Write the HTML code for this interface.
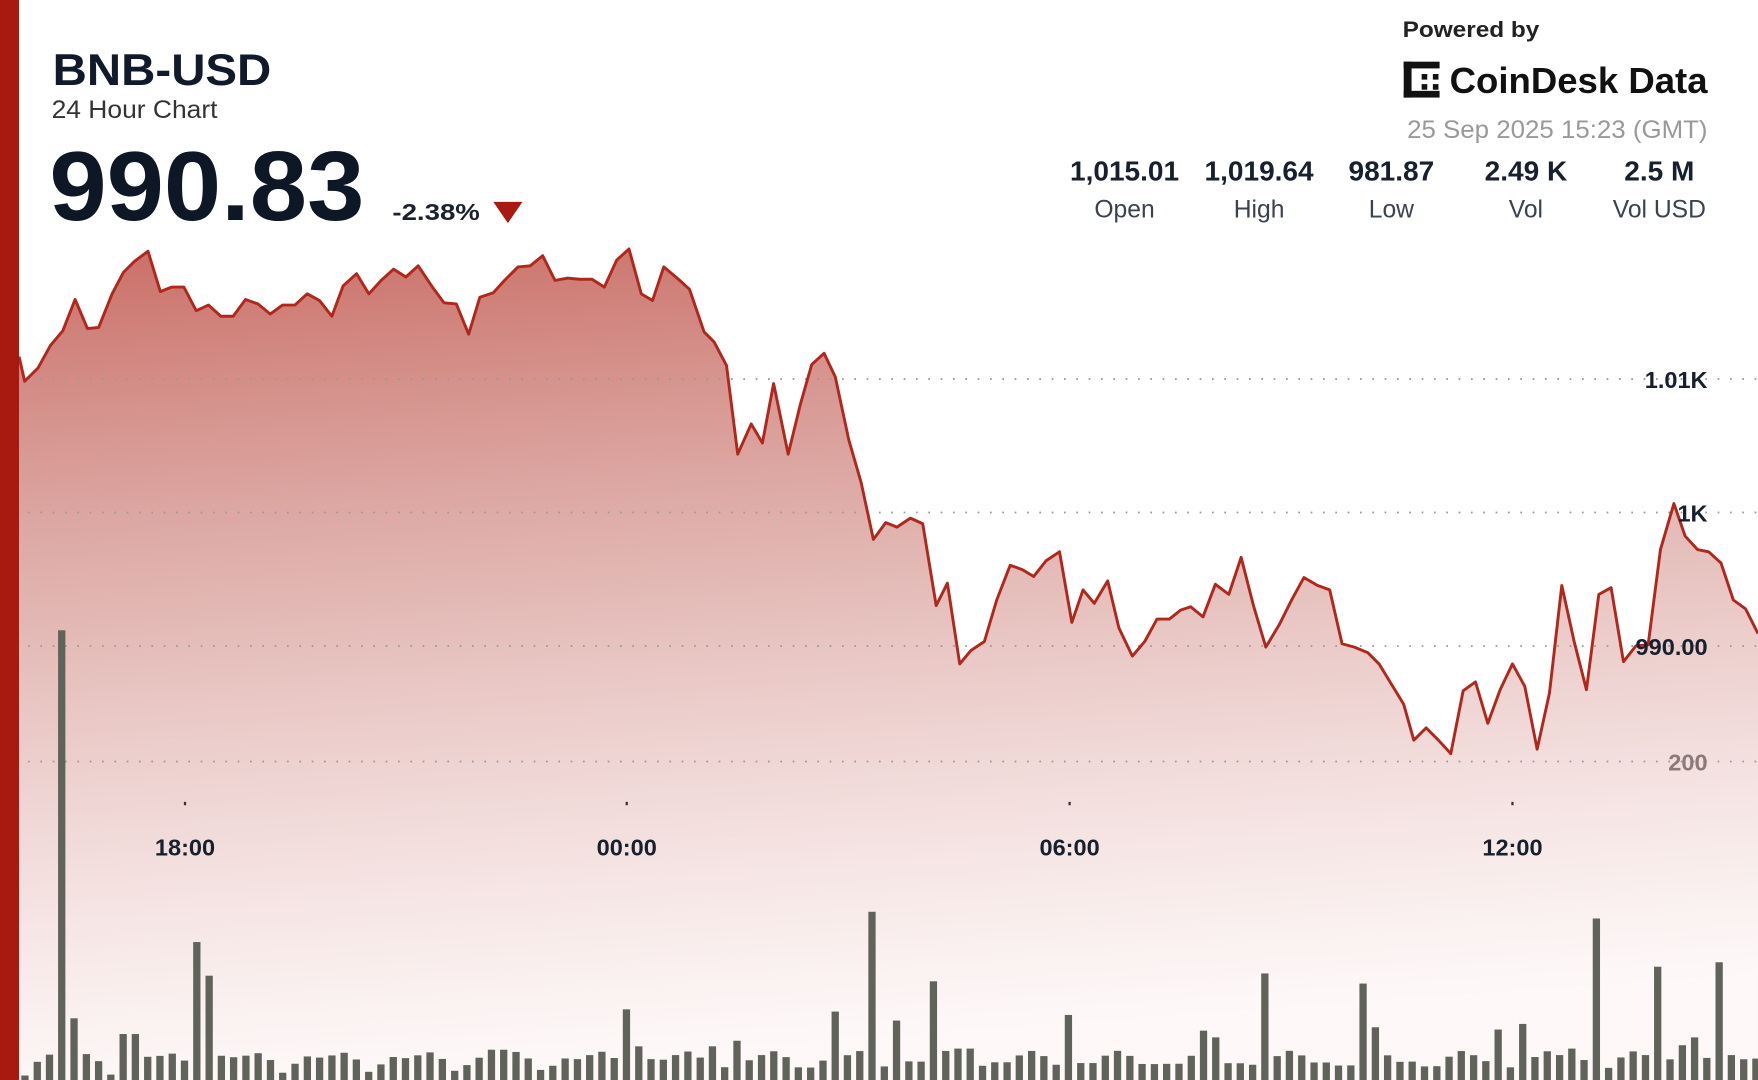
<!DOCTYPE html>
<html><head><meta charset="utf-8"><style>
html,body{margin:0;padding:0;background:#fff;overflow:hidden}
svg{display:block}
text{font-family:"Liberation Sans","DejaVu Sans",sans-serif}
</style></head><body>
<svg id="s" width="1758" height="1080" viewBox="0 0 1568 963" preserveAspectRatio="none" xmlns="http://www.w3.org/2000/svg">
<defs>
<linearGradient id="g" x1="0" y1="0" x2="0.15" y2="1">
<stop offset="0" stop-color="#c0544b" stop-opacity="0.85"/>
<stop offset="0.45" stop-color="#d08a84" stop-opacity="0.6"/>
<stop offset="1" stop-color="#fbeeee" stop-opacity="0.4"/>
</linearGradient>
</defs>
<rect x="0" y="0" width="1568" height="963" fill="#fff"/>
<path id="area" fill="url(#g)"/>
<g id="grid" stroke="#999" stroke-width="1.6" stroke-dasharray="1.5 9.5">
<line x1="25" y1="338" x2="1568" y2="338"/>
<line x1="25" y1="457" x2="1568" y2="457"/>
<line x1="25" y1="576" x2="1568" y2="576"/>
<line x1="25" y1="679" x2="1568" y2="679"/>
</g>
<g id="bars" fill="#5f6359"></g>
<path id="line" fill="none" stroke="#b1271b" stroke-width="2.6" stroke-linejoin="round"/>
<rect x="0" y="0" width="17" height="963" fill="#a8190f"/>
<text x="47" y="76" font-size="40" font-weight="bold" fill="#111a2a" textLength="195" lengthAdjust="spacingAndGlyphs">BNB-USD</text>
<text x="46" y="105" font-size="22" fill="#333" textLength="148" lengthAdjust="spacingAndGlyphs">24 Hour Chart</text>
<text x="44" y="196" font-size="88" font-weight="bold" fill="#0e1726" textLength="281" lengthAdjust="spacingAndGlyphs">990.83</text>
<text x="350" y="196" font-size="21" font-weight="bold" fill="#1a2230" textLength="78" lengthAdjust="spacingAndGlyphs">-2.38%</text>
<polygon points="440,180 466,180 453,199" fill="#a8190f"/>
<text x="1251" y="33" font-size="20" font-weight="bold" fill="#222" textLength="122" lengthAdjust="spacingAndGlyphs">Powered by</text>
<g fill="#111">
<rect x="1252" y="55" width="7" height="32"/><rect x="1252" y="55" width="32" height="6"/><rect x="1252" y="81" width="32" height="6"/>
<rect x="1268" y="66" width="5" height="5"/><rect x="1268" y="75" width="5" height="5"/><rect x="1278" y="66" width="5" height="5"/><rect x="1278" y="75" width="5" height="5"/>
</g>
<text x="1293" y="83" font-size="32" font-weight="bold" fill="#111" textLength="230" lengthAdjust="spacingAndGlyphs">CoinDesk Data</text>
<text x="1523" y="123" font-size="22" fill="#999" text-anchor="end" textLength="268" lengthAdjust="spacingAndGlyphs">25 Sep 2025 15:23 (GMT)</text>
<g font-size="25" font-weight="bold" fill="#16202e" text-anchor="middle">
<text x="1003" y="161">1,015.01</text><text x="1123" y="161">1,019.64</text><text x="1241" y="161">981.87</text><text x="1361" y="161">2.49 K</text><text x="1480" y="161">2.5 M</text>
</g>
<g font-size="22" fill="#3a4250" text-anchor="middle">
<text x="1003" y="194">Open</text><text x="1123" y="194">High</text><text x="1241" y="194">Low</text><text x="1361" y="194">Vol</text><text x="1480" y="194">Vol USD</text>
</g>
<g font-size="21" font-weight="bold" fill="#16202e" text-anchor="end">
<text x="1523" y="346">1.01K</text><text x="1523" y="465">1K</text><text x="1523" y="584">990.00</text>
<text x="1523" y="687" fill="#8a7a78">200</text>
</g>
<g font-size="21" font-weight="bold" fill="#16202e" text-anchor="middle">
<text x="165" y="763">18:00</text><text x="559" y="763">00:00</text><text x="954" y="763">06:00</text><text x="1349" y="763">12:00</text>
</g>
<g fill="#333"><rect x="164" y="715" width="2" height="3"/><rect x="558" y="715" width="2" height="3"/><rect x="953" y="715" width="2" height="3"/><rect x="1348" y="715" width="2" height="3"/></g>
</svg>
<script>
(function(){
var P=[[17,318],[22,340],[34,328],[45,308],[56,295],[67,267],[78,293],[88,292],[100,262],[110,243],[120,233],[132,224],[143,260],[153,256],[164,256],[175,277],[186,272],[197,282],[208,282],[219,267],[230,271],[241,280],[252,272],[263,272],[274,262],[285,268],[296,282],[306,255],[318,244],[329,262],[340,250],[351,240],[362,247],[373,237],[385,255],[396,270],[407,271],[418,298],[428,265],[440,261],[450,250],[462,238],[473,237],[484,228],[495,250],[506,248],[517,249],[528,249],[539,256],[550,232],[561,222],[572,262],[582,268],[592,238],[604,248],[615,258],[628,296],[637,305],[648,326],[658,405],[670,378],[680,395],[690,342],[703,405],[714,360],[724,325],[735,315],[745,336],[757,392],[768,430],[779,481],[790,466],[800,470],[812,462],[823,467],[835,540],[845,520],[856,592],[866,580],[878,572],[889,535],[901,504],[912,508],[922,514],[933,500],[945,492],[956,555],[966,526],[976,538],[988,518],[998,560],[1010,585],[1021,572],[1032,552],[1043,552],[1053,544],[1062,541],[1073,550],[1084,521],[1096,530],[1107,497],[1118,540],[1129,577],[1141,557],[1152,535],[1163,515],[1175,522],[1186,526],[1197,574],[1208,577],[1220,582],[1230,592],[1241,610],[1252,628],[1261,660],[1272,649],[1283,660],[1294,672],[1305,616],[1316,608],[1327,645],[1338,615],[1349,592],[1360,612],[1371,668],[1382,618],[1393,522],[1404,572],[1415,615],[1426,530],[1437,524],[1448,590],[1459,576],[1470,575],[1481,490],[1493,449],[1503,478],[1514,490],[1524,492],[1535,502],[1546,535],[1557,543],[1568,565]];
var d="M"+P.map(function(p){return p[0]+","+p[1]}).join(" L");
document.getElementById("line").setAttribute("d",d);
document.getElementById("area").setAttribute("d",d+" L1568,963 L17,963 Z");
var ov=[[60,562],[71,908],[180,840],[190,870],[558,900],[778,813],[800,910],[833,875],[952,905],[1127,868],[1214,877],[1225,916],[1420,819],[1475,862],[1529,858],[1354,913],[1332,918],[1072,919],[1083,925],[744,902],[852,935],[863,935],[1398,935],[1497,932],[1507,925],[114,922],[125,922],[568,933],[634,933],[657,928],[440,936],[451,936],[462,938]];
var gb=document.getElementById("bars");
var NS="http://www.w3.org/2000/svg";
for(var i=0;i<142;i++){
 var x=22+i*10.95;var h=4+Math.abs(Math.sin(i*2.7)*14)+Math.abs(Math.sin(i*0.9))*8;
 var yt=963-h;
 for(var j=0;j<ov.length;j++){if(Math.abs(ov[j][0]-x)<5.5){yt=ov[j][1];}}
 var r=document.createElementNS(NS,"rect");
 r.setAttribute("x",(x-3).toFixed(1));r.setAttribute("y",yt.toFixed(1));
 r.setAttribute("width","6.5");r.setAttribute("height",(963-yt).toFixed(1));
 gb.appendChild(r);
}
})();
</script>
</body></html>
